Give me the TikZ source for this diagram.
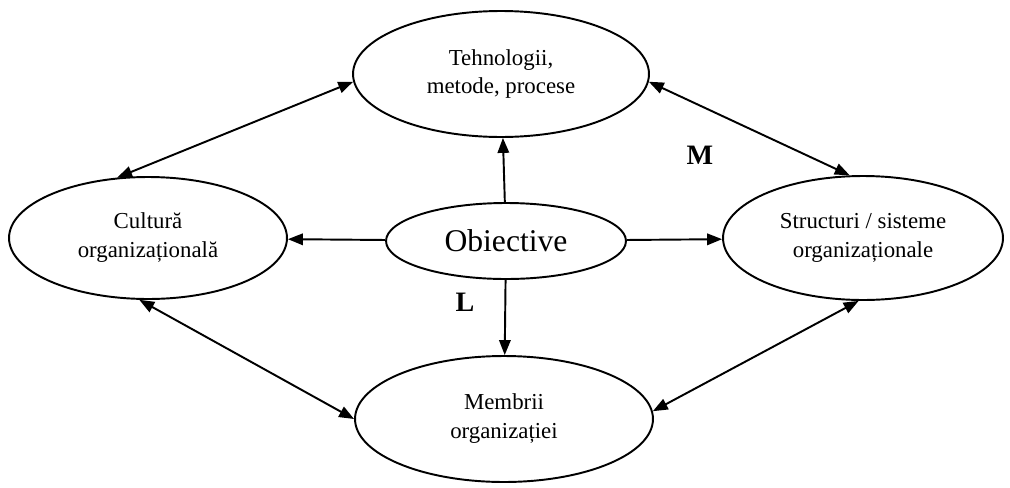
\documentclass[tikz,border=0pt]{standalone}
\usepackage{fontspec}
\setmainfont{Liberation Serif}
\usetikzlibrary{shapes.geometric,arrows.meta}

\newcommand{\textelipsa}{\fontsize{13pt}{16.5pt}\selectfont}
\newcommand{\textobiectiv}{\fontsize{18pt}{20pt}\selectfont}
\newcommand{\textlitera}{\fontsize{16pt}{18pt}\selectfont\bfseries}

\tikzset{
  elipsa/.style={ellipse, draw, line width=1.1pt, inner sep=0pt, align=center,
    font=\textelipsa},
  sageata/.style={line width=1.1pt, -{Triangle[length=8.5pt,width=6.5pt]}},
  dublu/.style={line width=1.1pt, {Triangle[length=8.5pt,width=6.5pt]}-{Triangle[length=8.5pt,width=6.5pt]}},
  litera/.style={font=\textlitera}
}

\begin{document}
\begin{tikzpicture}[x=0.02cm, y=-0.02cm]
   \useasboundingbox (0,0) rectangle (1010,487);
   % cele cinci elipse
   \node[elipsa, minimum width=5.92cm, minimum height=2.52cm] (tehn) at (501,74) {Tehnologii,\\metode, procese};
   \node[elipsa, minimum width=5.56cm, minimum height=2.44cm] (cult) at (148,238) {Cultură\\organizațională};
   \node[elipsa, minimum width=4.8cm, minimum height=1.52cm, font=\textobiectiv] (obj) at (506,241) {Obiective};
   \node[elipsa, minimum width=5.6cm, minimum height=2.48cm] (struct) at (863,238) {Structuri / sisteme\\organizaționale};
   \node[elipsa, minimum width=5.96cm, minimum height=2.52cm] (memb) at (504,419) {Membrii\\organizației};
   % sagetile din centru
   \draw[sageata] (obj) -- (tehn);
   \draw[sageata] (obj) -- (cult);
   \draw[sageata] (obj) -- (struct);
   \draw[sageata] (obj) -- (memb);
   % legaturile in ambele sensuri
   \draw[dublu] (cult.117) -- (tehn.183);
   \draw[dublu] (tehn.-3) -- (struct.102);
   \draw[dublu] (struct.266) -- (memb.3);
   \draw[dublu] (cult.262) -- (memb.180);
   % literele
   \node[litera] (m) at (700,155) {M};
   \node[litera] (l) at (465,302) {L};
\end{tikzpicture}
\end{document}
